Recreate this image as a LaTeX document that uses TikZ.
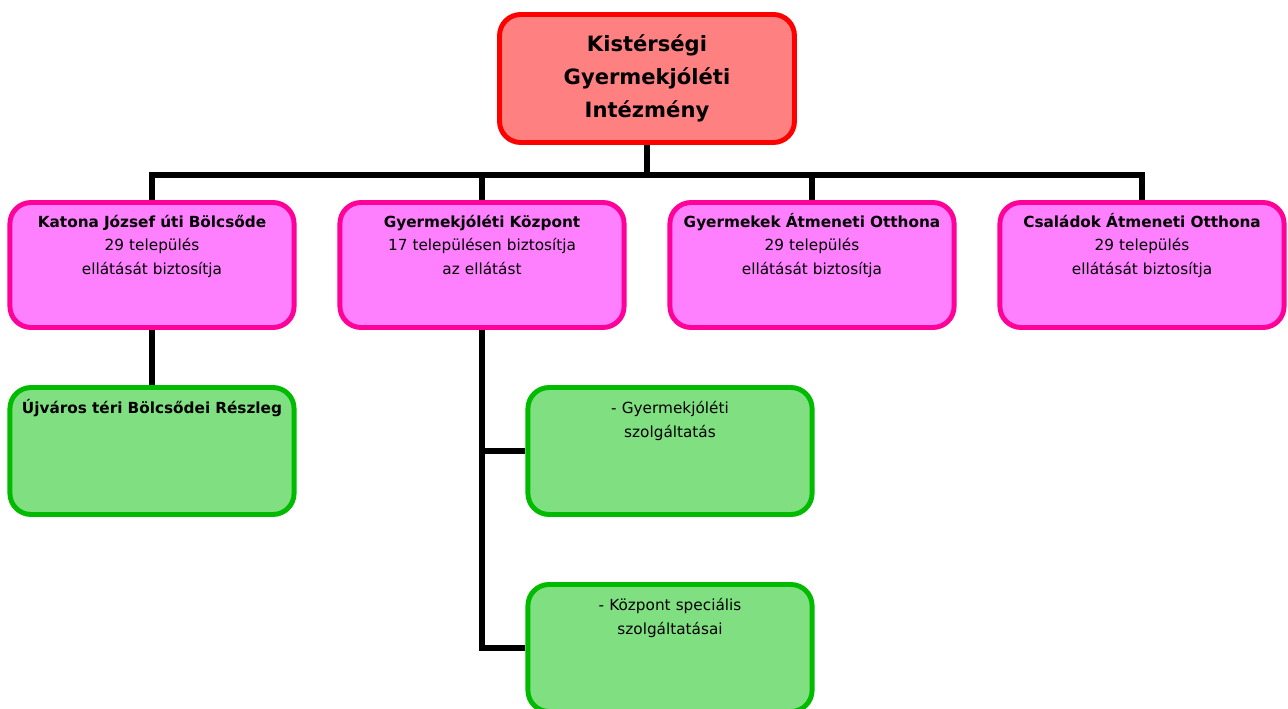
\documentclass[tikz,border=0pt]{standalone}
\usepackage{fontspec}
\setmainfont{DejaVu Sans}
\usepackage{tikz}
\usetikzlibrary{positioning}
\usepackage{xcolor}
\definecolor{ogred}{RGB}{255,0,0}
\definecolor{ogredfill}{RGB}{255,128,128}
\definecolor{ogpink}{RGB}{255,0,153}
\definecolor{ogpinkfill}{RGB}{255,128,255}
\definecolor{oggreen}{RGB}{0,187,0}
\definecolor{oggreenfill}{RGB}{128,223,128}
\tikzstyle{link} = [line width=3.4pt, color=black]

\begin{document}
\begin{tikzpicture}[x=0.02cm, y=-0.02cm,
    head/.style={rectangle, rounded corners=12pt, draw=ogred, fill=ogredfill, line width=2.8pt, minimum width=5.9cm, minimum height=2.56cm, align=center, font=\fontsize{12}{18.7}\selectfont\bfseries},
    unit/.style={rectangle, rounded corners=12pt, draw=ogpink, fill=ogpinkfill, line width=2.8pt, minimum width=5.6cm, minimum height=2.5cm, text width=5.45cm, align=center, inner ysep=0.19cm, text height=0.3cm, text depth=1.82cm, font=\fontsize{8.7}{13.6}\selectfont},
    service/.style={rectangle, rounded corners=12pt, draw=oggreen, fill=oggreenfill, line width=2.8pt, minimum width=5.6cm, minimum height=2.54cm, text width=5.45cm, align=center, inner ysep=0.22cm, text height=0.3cm, text depth=1.8cm, font=\fontsize{8.7}{13.6}\selectfont}]

\useasboundingbox (0,0) rectangle (1288,709);

% Top
\node[head] (intezmeny) at (647,78.5) {Kistérségi\\Gyermekjóléti\\Intézmény};

% Units
\node[unit] (katona) at (152,265) {\textbf{Katona József úti Bölcsőde}\\29 település\\ellátását biztosítja};
\node[unit] (kozpont) at (482,265) {\textbf{Gyermekjóléti Központ}\\17 településen biztosítja\\az ellátást};
\node[unit] (gyermekek) at (812,265) {\textbf{Gyermekek Átmeneti Otthona}\\29 település\\ellátását biztosítja};
\node[unit] (csaladok) at (1142,265) {\textbf{Családok Átmeneti Otthona}\\29 település\\ellátását biztosítja};

% Services
\node[service] (ujvaros) at (152,451) {\textbf{Újváros téri Bölcsődei Részleg}};
\node[service] (szolg) at (670,451) {- Gyermekjóléti\\szolgáltatás};
\node[service] (specialis) at (670,648) {- Központ speciális\\szolgáltatásai};

% Connections
\coordinate (bus) at (647,175);
\draw[link] (intezmeny) -- (bus);
\draw[link] (bus) -| (katona);
\draw[link] (bus) -| (kozpont);
\draw[link] (bus) -| (gyermekek);
\draw[link] (bus) -| (csaladok);

\draw[link] (katona) -- (ujvaros);
\draw[link] (kozpont.south) |- (szolg.west);
\draw[link] (kozpont.south) |- (specialis.west);
\end{tikzpicture}
\end{document}
